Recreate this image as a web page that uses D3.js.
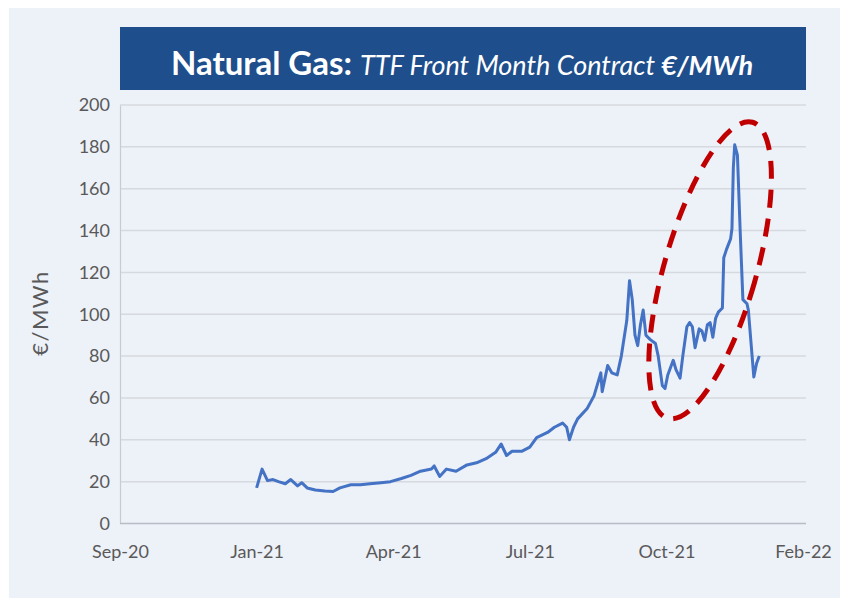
<!DOCTYPE html>
<html>
<head>
<meta charset="utf-8">
<script src="https://cdn.jsdelivr.net/npm/d3@7"></script>
<style>
  body { margin: 0; background: #fff; }
  text { font-family: Lato, "Open Sans", sans-serif; }
</style>
</head>
<body>
<div id="chart"></div>
<script>
// TTF front month
const dates = [
  "2021-01-03","2021-01-07","2021-01-11","2021-01-15","2021-01-19","2021-01-24","2021-01-28",
  "2021-02-02","2021-02-05","2021-02-09","2021-02-15","2021-02-22","2021-02-28","2021-03-05",
  "2021-03-13","2021-03-20","2021-03-27","2021-04-04","2021-04-11","2021-04-19","2021-04-26",
  "2021-05-03","2021-05-11","2021-05-13","2021-05-17","2021-05-22","2021-05-29","2021-06-06",
  "2021-06-13","2021-06-20","2021-06-27","2021-07-01","2021-07-05","2021-07-09","2021-07-16",
  "2021-07-22","2021-07-27","2021-08-04","2021-08-09","2021-08-15","2021-08-18","2021-08-20",
  "2021-08-23","2021-08-26","2021-09-02","2021-09-07","2021-09-12","2021-09-13","2021-09-17",
  "2021-09-20","2021-09-24","2021-09-27","2021-10-01","2021-10-03","2021-10-05","2021-10-07",
  "2021-10-09","2021-10-11","2021-10-13","2021-10-15","2021-10-18","2021-10-22","2021-10-24",
  "2021-10-27","2021-10-29","2021-10-31","2021-11-04","2021-11-06","2021-11-09","2021-11-11",
  "2021-11-14","2021-11-16","2021-11-18","2021-11-20","2021-11-23","2021-11-25","2021-11-27",
  "2021-11-29","2021-12-01","2021-12-03","2021-12-05","2021-12-07","2021-12-10","2021-12-11",
  "2021-12-13","2021-12-16","2021-12-17","2021-12-18","2021-12-19","2021-12-21","2021-12-23",
  "2021-12-25","2021-12-28","2021-12-29","2022-01-02","2022-01-04","2022-01-06"
];
const prices = [
  17, 26, 20.5, 21, 20, 19, 21,
  18, 19.5, 17, 16, 15.5, 15.3, 17,
  18.5, 18.5, 19, 19.5, 20, 21.5, 23,
  25, 26, 27.5, 22.5, 26, 25, 28,
  29, 31, 34, 38, 32.5, 34.5, 34.5,
  36.5, 41, 43.5, 46, 48, 46, 40,
  46, 50, 55, 61, 72, 63, 75.5,
  72, 71, 80, 97, 116, 107, 90,
  85, 95, 102, 90, 88, 86, 80,
  66, 64.5, 71, 78, 73.5, 69.5, 80,
  94, 96, 94, 84, 93, 92, 87.5,
  95, 96, 89, 98, 101, 103, 127,
  131, 136, 141, 170, 181, 176, 140,
  107, 105, 102, 70, 76.5, 80
];
const yTicks = [0, 20, 40, 60, 80, 100, 120, 140, 160, 180, 200];
const xStart = "2020-09-25";   // first x-axis label, labels every 100 days
const xEnd = "2022-02-07";
const xTickCount = 6;
// annotation ellipse centre (date, value)
const ringCentre = { date: "2021-12-01", value: 121 };

const parse = d3.timeParse("%Y-%m-%d");
const data = dates.map((d, i) => ({ date: parse(d), value: prices[i] }));

const W = 846, H = 606;
const svg = d3.select("#chart").append("svg")
  .attr("width", W).attr("height", H);

// panel background
svg.append("rect")
  .attr("x", 9).attr("y", 8).attr("width", 831).attr("height", 590)
  .attr("fill", "#edf1f8");

// title bar
svg.append("rect")
  .attr("x", 120).attr("y", 27).attr("width", 686).attr("height", 63)
  .attr("fill", "#1f4e8c");

const title = svg.append("text")
  .attr("x", 462).attr("y", 75)
  .attr("text-anchor", "middle")
  .attr("fill", "#fff");
title.append("tspan").text("Natural Gas: ")
  .attr("font-size", 33).attr("font-weight", "bold");
title.append("tspan").text("TTF Front Month Contract ")
  .attr("font-size", 27).attr("font-style", "italic");
title.append("tspan").text("€/MWh")
  .attr("font-size", 27).attr("font-style", "italic").attr("font-weight", "bold");

const x = d3.scaleTime()
  .domain([parse(xStart), parse(xEnd)])
  .range([120, 803]);
const y = d3.scaleLinear()
  .domain([0, 200])
  .range([523.5, 105]);

// gridlines
svg.append("g")
  .selectAll("line")
  .data(yTicks.filter(d => d > 0))
  .join("line")
  .attr("x1", 120).attr("x2", 806)
  .attr("y1", d => y(d)).attr("y2", d => y(d))
  .attr("stroke", "#d6d9de").attr("stroke-width", 1.5);

// y axis
const yAxis = svg.append("g")
  .attr("transform", "translate(120,0)")
  .call(d3.axisLeft(y).tickValues(yTicks).tickSize(0).tickPadding(10));
yAxis.select(".domain").attr("stroke", "#c8ccd2").attr("stroke-width", 1.2);
yAxis.selectAll("text").attr("font-size", 18).attr("fill", "#595959")
  .attr("font-family", "Lato, 'Open Sans', sans-serif");

// x axis
const xTicks = d3.range(xTickCount).map(i => d3.timeDay.offset(parse(xStart), 100 * i));
const xAxis = svg.append("g")
  .attr("transform", "translate(0,523.5)")
  .call(d3.axisBottom(x).tickValues(xTicks).tickFormat(d3.timeFormat("%b-%y"))
    .tickSize(0).tickPadding(22));
xAxis.select(".domain").attr("d", "M120,0H806").attr("stroke", "#b8bcc4").attr("stroke-width", 1.5);
xAxis.selectAll("text").attr("font-size", 18).attr("fill", "#595959")
  .attr("font-family", "Lato, 'Open Sans', sans-serif");

// y axis title
svg.append("text")
  .attr("transform", "translate(48,313) rotate(-90)")
  .attr("text-anchor", "middle")
  .attr("font-size", 22).attr("fill", "#595959")
  .attr("letter-spacing", 1.5)
  .text("€/MWh");

// price line
const line = d3.line()
  .x(d => x(d.date))
  .y(d => y(d.value));
svg.append("path")
  .datum(data)
  .attr("d", line)
  .attr("fill", "none")
  .attr("stroke", "#4472c4")
  .attr("stroke-width", 3)
  .attr("stroke-linejoin", "round");

// red dashed ring around the recent spike
svg.append("ellipse")
  .attr("transform", `translate(${x(parse(ringCentre.date))},${y(ringCentre.value)}) rotate(16)`)
  .attr("rx", 46).attr("ry", 154)
  .attr("fill", "none")
  .attr("stroke", "#c00000")
  .attr("stroke-width", 5)
  .attr("stroke-dasharray", "18,11");
</script>
</body>
</html>
